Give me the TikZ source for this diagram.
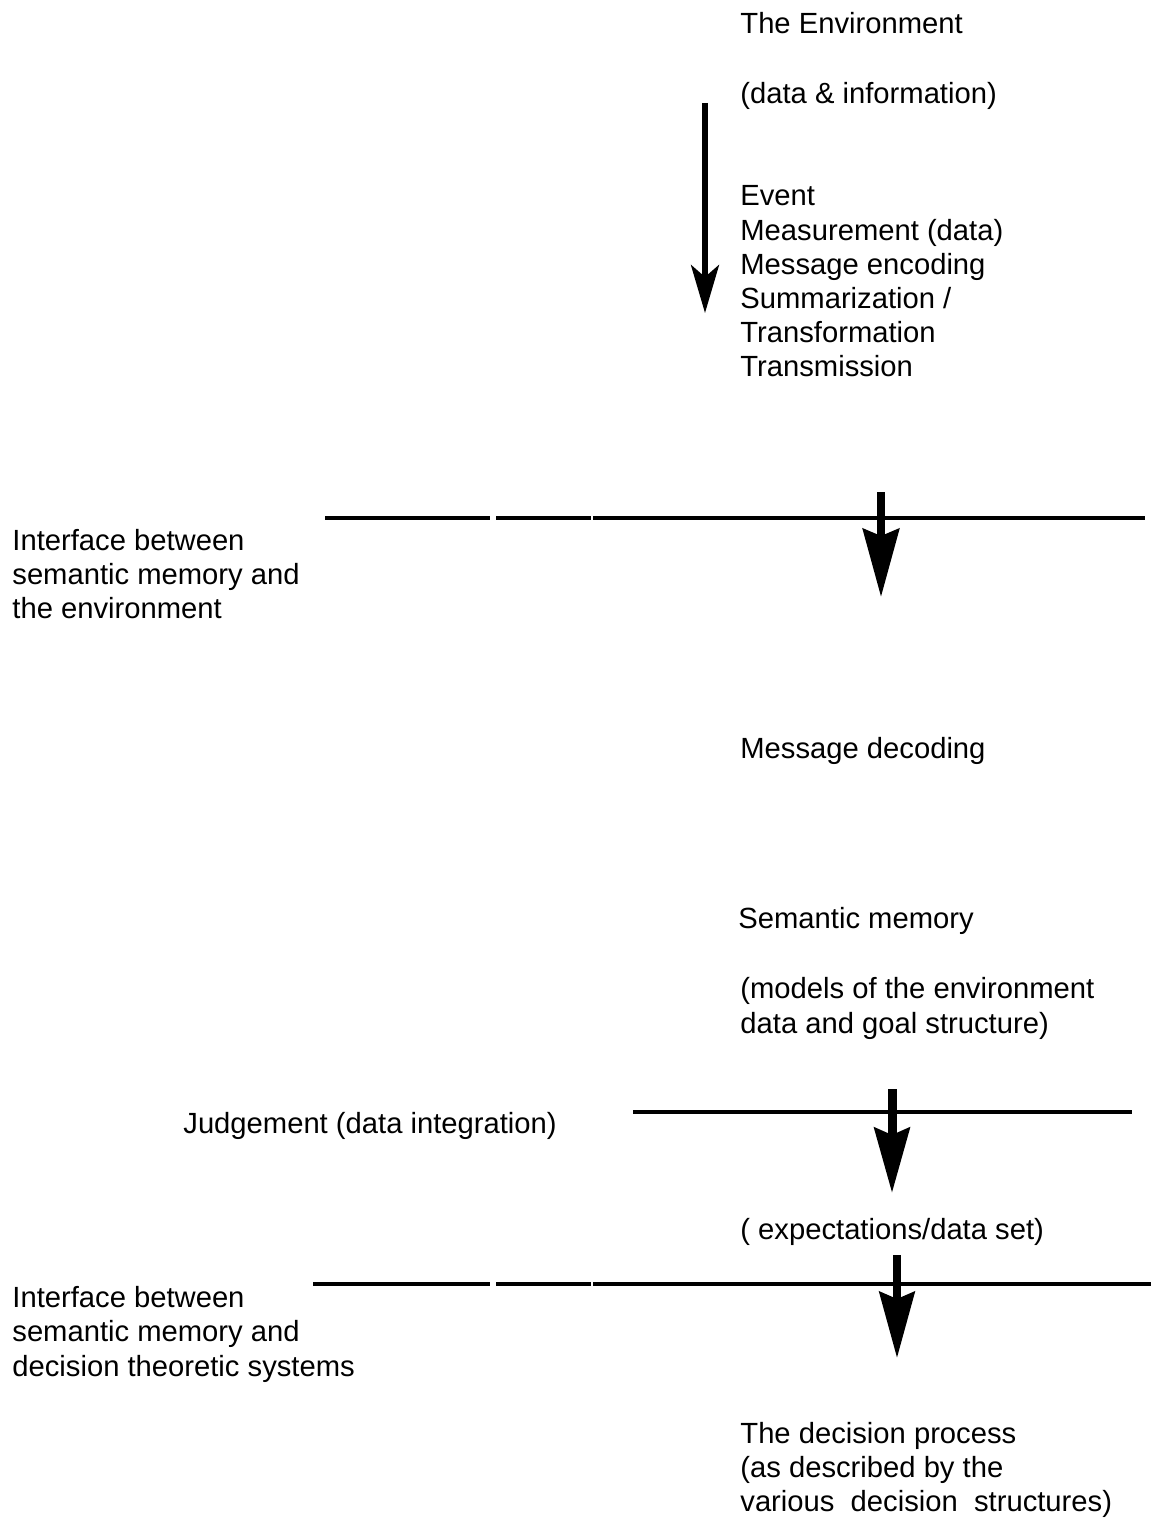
\documentclass[tikz,border=0pt]{standalone}
\usepackage{fontspec}
\setmainfont{Liberation Sans}
\usetikzlibrary{arrows.meta}
\begin{document}
\begin{tikzpicture}[x=0.5pt,y=-0.5pt,
  txt/.style={anchor=base west,inner sep=0pt,font=\fontsize{14.6}{17}\selectfont},
  rule/.style={line width=2pt},
  bigarrow/.style={line width=#1,-{Stealth[length=34pt,width=18pt,inset=3.5pt]}},
]
\useasboundingbox[fill=white] (0,0) rectangle (1151,1518);

% top texts
\node[txt] (env) at (740,34) {The Environment};
\node[txt] (envinfo) at (740,104) {(data \& information)};
\foreach \t [count=\i] in {Event,Measurement (data),Message encoding,Summarization /,Transformation,Transmission}
  \node[txt] (step\i) at (740,{206+34.2*(\i-1)}) {\t};

% first arrow
\coordinate (a1s) at (705,103);
\coordinate (a1e) at (705,313);
\draw[line width=2.6pt,-{Stealth[length=24pt,width=14pt,inset=6pt]}] (a1s) -- (a1e);

% interface 1
\node[txt] (if1a) at (12,550) {Interface between};
\node[txt] (if1b) at (12,584) {semantic memory and};
\node[txt] (if1c) at (12,618) {the environment};
\draw[rule] (325,518) -- (490,518);
\draw[rule] (496,518) -- (590.5,518);
\draw[rule] (593,518) -- (1145,518);
\coordinate (a2s) at (881,492);
\coordinate (a2e) at (881,597);
\draw[bigarrow=4pt] (a2s) -- (a2e);

\node[txt] (decode) at (740,758) {Message decoding};

\node[txt] (sem) at (738,928) {Semantic memory};
\node[txt] (mod1) at (740,998) {(models of the environment};
\node[txt] (mod2) at (740,1033) {data and goal structure)};

% judgement
\node[txt] (judge) at (183,1133) {Judgement (data integration)};
\draw[rule] (633,1112) -- (1132,1112);
\coordinate (a3s) at (892,1089);
\coordinate (a3e) at (892,1193);
\draw[line width=4.5pt,-{Stealth[length=32.5pt,width=17.5pt,inset=3.5pt]}] (a3s) -- (a3e);

\node[txt] (expect) at (740,1239) {( expectations/data set)};

% interface 2
\draw[rule] (313,1284) -- (490,1284);
\draw[rule] (496,1284) -- (590.5,1284);
\draw[rule] (593,1284) -- (1151,1284);
\coordinate (a4s) at (897,1255);
\coordinate (a4e) at (897,1358);
\draw[line width=4pt,-{Stealth[length=33pt,width=17.5pt,inset=3.5pt]}] (a4s) -- (a4e);
\node[txt] (if2a) at (12,1307) {Interface between};
\node[txt] (if2b) at (12,1341) {semantic memory and};
\node[txt] (if2c) at (12,1376) {decision theoretic systems};

% decision
\node[txt] (dec1) at (740,1443) {The decision process};
\node[txt] (dec2) at (740,1477) {(as described by the};
\node[txt] (dec3) at (740,1511) {various\ \ decision\ \ structures)};
\end{tikzpicture}
\end{document}
